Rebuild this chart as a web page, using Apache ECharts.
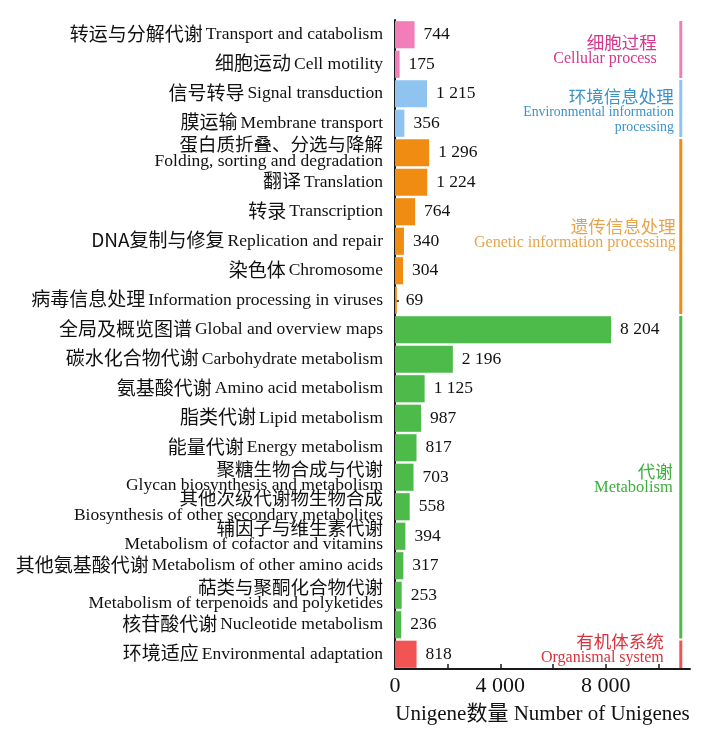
<!DOCTYPE html>
<html>
<head>
<meta charset="utf-8">
<script src="https://cdn.jsdelivr.net/npm/echarts@6/dist/echarts.min.js"></script>
<style>html,body{margin:0;padding:0;background:#fff;}#c{width:727px;height:755px;}</style>
</head>
<body>
<div id="c"></div>
<script>
const catZh = ['转运与分解代谢','细胞运动','信号转导','膜运输','蛋白质折叠、分选与降解','翻译','转录','DNA复制与修复','染色体','病毒信息处理','全局及概览图谱','碳水化合物代谢','氨基酸代谢','脂类代谢','能量代谢','聚糖生物合成与代谢','其他次级代谢物生物合成','辅因子与维生素代谢','其他氨基酸代谢','萜类与聚酮化合物代谢','核苷酸代谢','环境适应'];
const catEn = ['Transport and catabolism','Cell motility','Signal transduction','Membrane transport','Folding, sorting and degradation','Translation','Transcription','Replication and repair','Chromosome','Information processing in viruses','Global and overview maps','Carbohydrate metabolism','Amino acid metabolism','Lipid metabolism','Energy metabolism','Glycan biosynthesis and metabolism','Biosynthesis of other secondary metabolites','Metabolism of cofactor and vitamins','Metabolism of other amino acids','Metabolism of terpenoids and polyketides','Nucleotide metabolism','Environmental adaptation'];
const values = [744,175,1215,356,1296,1224,764,340,304,69,8204,2196,1125,987,817,703,558,394,317,253,236,818];
const groupZh = ['细胞过程','环境信息处理','遗传信息处理','代谢','有机体系统'];
const groupEn = ['Cellular process','Environmental information\nprocessing','Genetic information processing','Metabolism','Organismal system'];
const groupStart = [0,2,4,10,21];
const groupEnd = [1,3,9,20,21];
const xTicks = [0,2000,4000,6000,8000,10000];
const xTickLabels = [0,4000,8000];
const bracketX = 10850;

const barColors = ['#f27db9','#8fc3f0','#f08c12','#4cbb4a','#f25454'];
const textColors = ['#d3388c','#3b92c9','#e6a44e','#3fae3f','#d8323c'];
const textPad = [24,7,5,8,17];
const textShift = [1,3,8,2,-5];
const enSize = [16,13.8,16,16.5,16];
const enLH = [16,15.5,16,16,16];
const twoLine = [4,15,16,17,19];

const sp = v => String(v).replace(/\B(?=(\d{3})+(?!\d))/g, ' ');
const groupOf = i => groupStart.findIndex((s, g) => i >= s && i <= groupEnd[g]);
const cats = catZh.map((z, i) => i);
const FF = "'Liberation Serif','Noto Sans CJK SC',serif";

const chart = echarts.init(document.getElementById('c'));
chart.setOption({
  animation: false,
  textStyle: { fontFamily: FF },
  grid: { left: 395, right: 37, top: 20, bottom: 86, containLabel: false },
  xAxis: {
    type: 'value', min: 0, max: 11200,
    axisLine: { show: true, lineStyle: { color: '#1a1a1a', width: 2 } },
    axisTick: { show: true, inside: true, length: 5, customValues: xTicks, lineStyle: { color: '#1a1a1a', width: 1.5 } },
    axisLabel: { customValues: xTickLabels, formatter: v => sp(v), fontSize: 22, color: '#111', margin: 6, fontFamily: FF },
    splitLine: { show: false },
    name: 'Unigene数量 Number of Unigenes', nameLocation: 'middle', nameGap: 35,
    nameTextStyle: { fontSize: 21, color: '#111', fontFamily: FF }
  },
  yAxis: {
    type: 'category', inverse: true, data: cats,
    axisLine: { show: true, lineStyle: { color: '#1a1a1a', width: 2 } },
    axisTick: { show: true, inside: true, length: 4, alignWithLabel: true, lineStyle: { color: '#1a1a1a', width: 1.5 } },
    axisLabel: {
      margin: 12, interval: 0,
      formatter: i => {
        i = Number(i);
        return twoLine.includes(i) ? '{z2|' + catZh[i] + '}\n{e2|' + catEn[i] + '}' : '{z|' + catZh[i] + '} {e|' + catEn[i] + '}';
      },
      rich: {
        z: { fontSize: 19, color: '#111', fontFamily: "'Noto Sans CJK SC'", align: 'right', lineHeight: 22, padding: [0, 0, 2, 0] },
        e: { fontSize: 17.5, color: '#111', fontFamily: "'Liberation Serif'", align: 'right', lineHeight: 22 },
        z2: { fontSize: 18.5, color: '#111', fontFamily: "'Noto Sans CJK SC'", lineHeight: 17, align: 'right', padding: [0, 0, 1, 0] },
        e2: { fontSize: 17.5, color: '#111', fontFamily: "'Liberation Serif'", lineHeight: 16, align: 'right' }
      }
    }
  },
  series: [
    {
      type: 'bar', data: values, barCategoryGap: '8%',
      itemStyle: { color: p => barColors[groupOf(p.dataIndex)] },
      label: { show: true, position: 'right', distance: 9, formatter: p => sp(p.value), fontSize: 17.5, color: '#111', fontFamily: FF }
    },
    {
      type: 'custom', clip: false, silent: true,
      encode: { x: 0, y: 1 },
      data: groupStart.map((s, g) => [bracketX, s, groupEnd[g], g]),
      renderItem: (params, api) => {
        const xv = api.value(0), s = api.value(1), e = api.value(2), g = api.value(3);
        const band = api.size([0, 1])[1];
        const p1 = api.coord([xv, s]);
        const p2 = api.coord([xv, e]);
        const top = p1[1] - band / 2 + 1;
        const bot = p2[1] + band / 2 - 1;
        const mid = (top + bot) / 2 + textShift[g];
        return {
          type: 'group',
          children: [
            { type: 'line', shape: { x1: p1[0], y1: top, x2: p1[0], y2: bot }, style: { stroke: barColors[g], lineWidth: 3 } },
            { type: 'text', x: p1[0] - textPad[g], y: mid,
              style: {
                text: '{z|' + groupZh[g] + '}\n{e|' + groupEn[g].split('\n').join('}\n{e|') + '}',
                align: 'right', verticalAlign: 'middle',
                rich: {
                  z: { fontSize: 17.5, lineHeight: 17, fill: textColors[g], fontFamily: "'Noto Sans CJK SC'", align: 'right' },
                  e: { fontSize: enSize[g], lineHeight: enLH[g], fill: textColors[g], fontFamily: "'Liberation Serif'", align: 'right' }
                }
              } }
          ]
        };
      }
    }
  ]
});
</script>
</body>
</html>
